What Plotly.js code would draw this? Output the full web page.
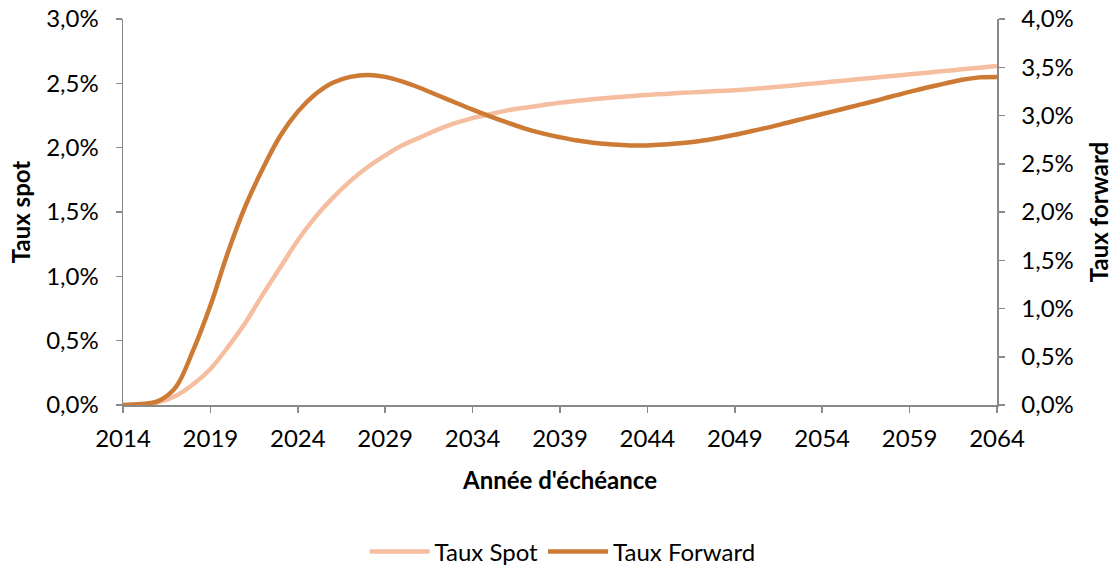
<!DOCTYPE html>
<html>
<head>
<meta charset="utf-8">
<script src="https://cdn.plot.ly/plotly-3.0.1.min.js"></script>
<style>
  html, body { margin: 0; padding: 0; background: #ffffff; }
  #chart { width: 1116px; height: 569px; }
</style>
</head>
<body>
<div id="chart"></div>
<script>
const years = [2014, 2015, 2016, 2017, 2018, 2019, 2020, 2021, 2022, 2023,
  2024, 2025, 2026, 2027, 2028, 2029, 2030, 2031, 2032, 2033,
  2034, 2035, 2036, 2037, 2038, 2039, 2040, 2041, 2042, 2043,
  2044, 2045, 2046, 2047, 2048, 2049, 2050, 2051, 2052, 2053,
  2054, 2055, 2056, 2057, 2058, 2059, 2060, 2061, 2062, 2063, 2064];

// Taux Spot (left axis, %)
const tauxSpot = [0.00, 0.00, 0.02, 0.07, 0.16, 0.28, 0.45, 0.64, 0.86, 1.07,
  1.28, 1.46, 1.61, 1.74, 1.85, 1.94, 2.02, 2.08, 2.14, 2.19,
  2.23, 2.26, 2.29, 2.31, 2.33, 2.35, 2.365, 2.378, 2.39, 2.40,
  2.41, 2.418, 2.426, 2.433, 2.44, 2.446, 2.456, 2.468, 2.48, 2.492,
  2.505, 2.518, 2.531, 2.544, 2.557, 2.57, 2.583, 2.596, 2.609, 2.622, 2.635];

// Taux Forward (right axis, %)
const tauxForward = [0.00, 0.01, 0.04, 0.18, 0.56, 1.03, 1.58, 2.06, 2.45, 2.79,
  3.04, 3.22, 3.34, 3.40, 3.42, 3.40, 3.35, 3.285, 3.21, 3.135,
  3.06, 2.99, 2.925, 2.865, 2.815, 2.775, 2.74, 2.715, 2.70, 2.69,
  2.69, 2.70, 2.715, 2.735, 2.765, 2.80, 2.84, 2.88, 2.925, 2.97,
  3.015, 3.06, 3.105, 3.15, 3.20, 3.245, 3.29, 3.33, 3.37, 3.395, 3.40];

const xTickVals = [2014, 2019, 2024, 2029, 2034, 2039, 2044, 2049, 2054, 2059, 2064];

const FONT = 'Lato, "Open Sans", sans-serif';
const FS = 24;
const AXIS_GRAY = '#898989';

const traces = [
  {
    x: years, y: tauxSpot, name: 'Taux Spot', type: 'scatter', mode: 'lines',
    line: { color: '#F6BEA0', width: 4.5, shape: 'spline', smoothing: 1 },
    yaxis: 'y', hoverinfo: 'x+y'
  },
  {
    x: years, y: tauxForward, name: 'Taux Forward', type: 'scatter', mode: 'lines',
    line: { color: '#CD7A34', width: 4.5, shape: 'spline', smoothing: 1 },
    yaxis: 'y2', hoverinfo: 'x+y'
  }
];

const tickFont = { family: FONT, size: FS, color: '#000000' };
const titleFont = { family: FONT, size: FS, color: '#000000', weight: 'bold' };

const layout = {
  width: 1116, height: 569,
  paper_bgcolor: '#ffffff', plot_bgcolor: '#ffffff',
  separators: ', ',
  font: { family: FONT, size: FS, color: '#000000' },
  margin: { l: 123, r: 119, t: 19, b: 164, pad: 0, autoexpand: false },
  showlegend: true,
  legend: {
    orientation: 'h', xref: 'paper', x: 0.503, xanchor: 'center',
    yref: 'container', y: 0.03, yanchor: 'middle',
    font: { family: FONT, size: FS, color: '#000000' },
    itemwidth: 60,
    traceorder: 'normal', bgcolor: 'rgba(0,0,0,0)'
  },
  xaxis: {
    range: [2014, 2064], tickvals: xTickVals, ticktext: xTickVals.map(String),
    automargin: false,
    showgrid: false, zeroline: false,
    showline: true, linecolor: AXIS_GRAY, linewidth: 1.5,
    ticks: 'outside', ticklen: 6, tickwidth: 1.5, tickcolor: AXIS_GRAY,
    ticklabelstandoff: 6,
    tickfont: tickFont,
    title: { text: "Année d'échéance", font: titleFont, standoff: 21 }
  },
  yaxis: {
    range: [0, 3], tick0: 0, dtick: 0.5, tickformat: '.1f', ticksuffix: '%',
    automargin: false,
    showgrid: false, zeroline: false,
    showline: true, linecolor: AXIS_GRAY, linewidth: 1.5,
    ticks: 'outside', ticklen: 6, tickwidth: 1.5, tickcolor: AXIS_GRAY,
    ticklabelstandoff: 12,
    tickfont: tickFont,
    title: { text: 'Taux spot', font: titleFont, standoff: 9 }
  },
  yaxis2: {
    overlaying: 'y', side: 'right',
    range: [0, 4], tick0: 0, dtick: 0.5, tickformat: '.1f', ticksuffix: '%',
    automargin: false,
    showgrid: false, zeroline: false,
    showline: true, linecolor: AXIS_GRAY, linewidth: 1.5,
    ticks: 'outside', ticklen: 6, tickwidth: 1.5, tickcolor: AXIS_GRAY,
    ticklabelstandoff: 12,
    tickfont: tickFont,
    title: { text: 'Taux forward', font: titleFont, standoff: 18 }
  }
};

Plotly.newPlot('chart', traces, layout, { displayModeBar: false, staticPlot: true });
</script>
</body>
</html>
